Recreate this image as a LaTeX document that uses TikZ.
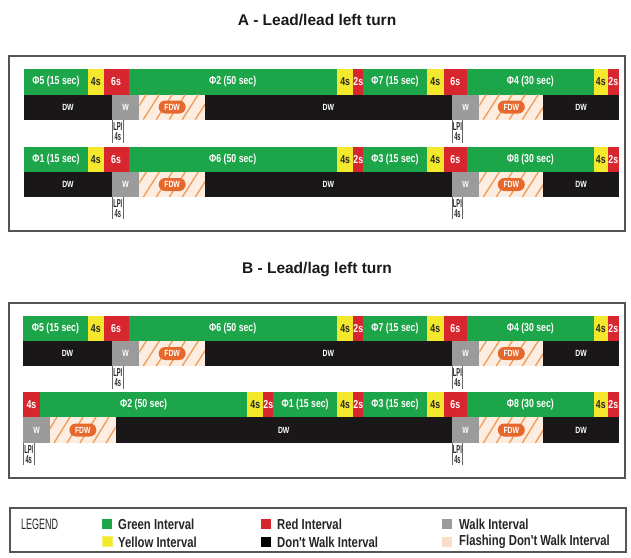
\documentclass[tikz,border=0pt]{standalone}
\usepackage{fontspec}
\setmainfont{Liberation Sans}
\newfontfamily\barfont{Liberation Sans}[FakeStretch=0.76]
\newfontfamily\legfont{Liberation Sans}[FakeStretch=0.78]
\newfontfamily\narrowfont{Liberation Sans}[FakeStretch=0.6]
\newfontfamily\lpifont{Liberation Sans}[FakeStretch=0.5]

\definecolor{sgreen}{HTML}{1DA549}
\definecolor{syellow}{HTML}{F4E82C}
\definecolor{sred}{HTML}{D7262D}
\definecolor{sblack}{HTML}{1A1718}
\definecolor{sgray}{HTML}{9B9B9B}
\definecolor{speach}{HTML}{FCEDE0}
\definecolor{shatch}{HTML}{EE9F5E}
\definecolor{sorange}{HTML}{E7682C}
\definecolor{sframe}{HTML}{555555}
\definecolor{lpeach}{HTML}{FADCC8}

\tikzset{
 segtext/.style={inner sep=0pt, font=\barfont\bfseries\fontsize{11.5}{12}\selectfont},
 dwtext/.style={inner sep=0pt, font=\barfont\bfseries\fontsize{9}{10}\selectfont},
 pill/.style={fill=sorange, text=white, rounded corners=6.5pt, minimum width=27pt, minimum height=13pt, inner sep=0pt, font=\barfont\bfseries\fontsize{9}{10}\selectfont},
 lpiline/.style={draw=black!60, line width=0.8pt},
 lpitext/.style={inner sep=0pt, align=center, font=\lpifont\bfseries\fontsize{11.5}{10}\selectfont, text=black!85},
 frame/.style={draw=sframe, line width=1.5pt},
 titletext/.style={font=\bfseries\fontsize{15.5}{18}\selectfont, text=black!90},
 legsq/.style={minimum width=10pt, minimum height=10pt, inner sep=0pt},
 legtext/.style={anchor=west, inner sep=0pt, font=\legfont\bfseries\fontsize{14.5}{15}\selectfont, text=black!85},
}

% #1 name, #2 x1, #3 x2, #4 y1, #5 y2, #6 fill, #7 text colour, #8 text
\newcommand\seg[8]{%
  \fill[#6] (#2,#4) rectangle (#3,#5);
  \node[segtext, text=#7] (#1) at ({(#2+#3)/2},{(#4+#5)/2}) {#8};}
\newcommand\dseg[7]{%
  \fill[#6] (#2,#4) rectangle (#3,#5);
  \node[dwtext, text=white] (#1) at ({(#2+#3)/2},{(#4+#5)/2}) {#7};}
% FDW: #1 name, #2 x1, #3 x2, #4 y1, #5 y2
\newcommand\fdw[5]{%
  \fill[speach] (#2,#4) rectangle (#3,#5);
  \begin{scope}
    \clip (#2,#4) rectangle (#3,#5);
    \foreach \i in {-22,-9,...,80} \draw[shatch, line width=1.4pt] ({#2+\i},#5) -- ({#2+\i+16},#4);
  \end{scope}
  \node[pill] (#1) at ({(#2+#3)/2},{(#4+#5)/2}) {FDW};}
% LPI: #1 name, #2 x, #3 y1, #4 y2
\newcommand\lpi[4]{%
  \draw[lpiline] (#2,#3) -- (#2,#4);
  \draw[lpiline] ({#2+10.5},#3) -- ({#2+10.5},#4);
  \node[lpitext] (#1) at ({#2+5.25},{(#3+#4)/2+0.5}) {LPI\\4s};}
% standard top bar: #1 prefix, #2 y1, #3 y2, #4 x0, #5-#8 labels
\newcommand\stdtop[8]{%
  \seg{#1g1}{#4}{88}{#2}{#3}{sgreen}{white}{#5}
  \seg{#1y1}{88}{103.5}{#2}{#3}{syellow}{black!85}{4s}
  \seg{#1r1}{103.5}{128.5}{#2}{#3}{sred}{white}{6s}
  \seg{#1g2}{128.5}{337}{#2}{#3}{sgreen}{white}{#6}
  \seg{#1y2}{337}{353.3}{#2}{#3}{syellow}{black!85}{4s}
  \seg{#1r2}{353.3}{363.3}{#2}{#3}{sred}{white}{2s}
  \seg{#1g3}{363.3}{426.7}{#2}{#3}{sgreen}{white}{#7}
  \seg{#1y3}{426.7}{444}{#2}{#3}{syellow}{black!85}{4s}
  \seg{#1r3}{444}{466.7}{#2}{#3}{sred}{white}{6s}
  \seg{#1g4}{466.7}{594}{#2}{#3}{sgreen}{white}{#8}
  \seg{#1y4}{594}{607.7}{#2}{#3}{syellow}{black!85}{4s}
  \seg{#1r4}{607.7}{619}{#2}{#3}{sred}{white}{2s}}
% standard bottom bar: #1 prefix, #2 y1, #3 y2, #4 LPI bottom, #5 x0
\newcommand\stdbot[5]{%
  \dseg{#1k1}{#5}{112}{#2}{#3}{sblack}{DW}
  \dseg{#1w1}{112}{139.3}{#2}{#3}{sgray}{W}
  \fdw{#1f1}{139.3}{205}{#2}{#3}
  \dseg{#1k2}{205}{451.7}{#2}{#3}{sblack}{DW}
  \dseg{#1w2}{451.7}{479.3}{#2}{#3}{sgray}{W}
  \fdw{#1f2}{479.3}{543.3}{#2}{#3}
  \dseg{#1k3}{543.3}{619}{#2}{#3}{sblack}{DW}
  \lpi{#1l1}{112.5}{#3}{#4}
  \lpi{#1l2}{452.2}{#3}{#4}}

\begin{document}
\begin{tikzpicture}[x=1pt,y=-1pt]
\useasboundingbox (0,0) rectangle (631,557);
\fill[white] (0,0) rectangle (631,557);

% ---------- A ----------
\node[titletext] (ta) at (317,20) {A - Lead/lead left turn};
\draw[frame] (9,56) rectangle (625,231);
\stdtop{aa}{68.5}{94.5}{24}{Φ5 (15 sec)}{Φ2 (50 sec)}{Φ7 (15 sec)}{Φ4 (30 sec)}
\stdbot{ab}{94.5}{119.5}{143}{24}
\stdtop{ac}{146.5}{172}{24}{Φ1 (15 sec)}{Φ6 (50 sec)}{Φ3 (15 sec)}{Φ8 (30 sec)}
\stdbot{ad}{172}{197}{219}{24}

% ---------- B ----------
\node[titletext] (tb) at (317,270) {B - Lead/lag left turn};
\draw[frame] (9,303) rectangle (625,478);
\stdtop{ba}{315.5}{341}{23}{Φ5 (15 sec)}{Φ6 (50 sec)}{Φ7 (15 sec)}{Φ4 (30 sec)}
\stdbot{bb}{341}{366}{389}{23}
% row 2 (lag)
\seg{bcr0}{23}{40}{391.5}{417}{sred}{white}{4s}
\seg{bcg1}{40}{247.3}{391.5}{417}{sgreen}{white}{Φ2 (50 sec)}
\seg{bcy1}{247.3}{263.3}{391.5}{417}{syellow}{black!85}{4s}
\seg{bcr1}{263.3}{273.3}{391.5}{417}{sred}{white}{2s}
\seg{bcg2}{273.3}{337}{391.5}{417}{sgreen}{white}{Φ1 (15 sec)}
\seg{bcy2}{337}{353.3}{391.5}{417}{syellow}{black!85}{4s}
\seg{bcr2}{353.3}{363.3}{391.5}{417}{sred}{white}{2s}
\seg{bcg3}{363.3}{426.7}{391.5}{417}{sgreen}{white}{Φ3 (15 sec)}
\seg{bcy3}{426.7}{444}{391.5}{417}{syellow}{black!85}{4s}
\seg{bcr3}{444}{466.7}{391.5}{417}{sred}{white}{6s}
\seg{bcg4}{466.7}{594}{391.5}{417}{sgreen}{white}{Φ8 (30 sec)}
\seg{bcy4}{594}{607.7}{391.5}{417}{syellow}{black!85}{4s}
\seg{bcr4}{607.7}{619}{391.5}{417}{sred}{white}{2s}
\dseg{bdw1}{23}{50}{417}{443}{sgray}{W}
\fdw{bdf1}{50}{115.7}{417}{443}
\dseg{bdk1}{115.7}{451.7}{417}{443}{sblack}{DW}
\dseg{bdw2}{451.7}{479.3}{417}{443}{sgray}{W}
\fdw{bdf2}{479.3}{543.3}{417}{443}
\dseg{bdk2}{543.3}{619}{417}{443}{sblack}{DW}
\lpi{bdl1}{23.5}{443}{465}
\lpi{bdl2}{452.2}{443}{465}

% ---------- Legend ----------
\draw[frame] (10,508) rectangle (626,552);
\node[anchor=west, inner sep=0pt, font=\narrowfont\fontsize{15}{16}\selectfont, text=black!85] (lg) at (21,524) {LEGEND};
\node[legsq, fill=sgreen] (sq1) at (107,523.5) {};
\node[legtext] (lt1) at (118,524) {Green Interval};
\node[legsq, fill=syellow, draw=syellow!70!white] (sq2) at (107,541.5) {};
\node[legtext] (lt2) at (118,542) {Yellow Interval};
\node[legsq, fill=sred] (sq3) at (265.5,523.5) {};
\node[legtext] (lt3) at (277,524) {Red Interval};
\node[legsq, fill=black] (sq4) at (265.5,541.5) {};
\node[legtext] (lt4) at (277,542) {Don't Walk Interval};
\node[legsq, fill=sgray] (sq5) at (446.5,523.5) {};
\node[legtext] (lt5) at (459,524) {Walk Interval};
\node[legsq, fill=lpeach] (sq6) at (446.5,541.5) {};
\node[legtext] (lt6) at (459,542) {Flashing Don't Walk Interval};
\end{tikzpicture}
\end{document}
